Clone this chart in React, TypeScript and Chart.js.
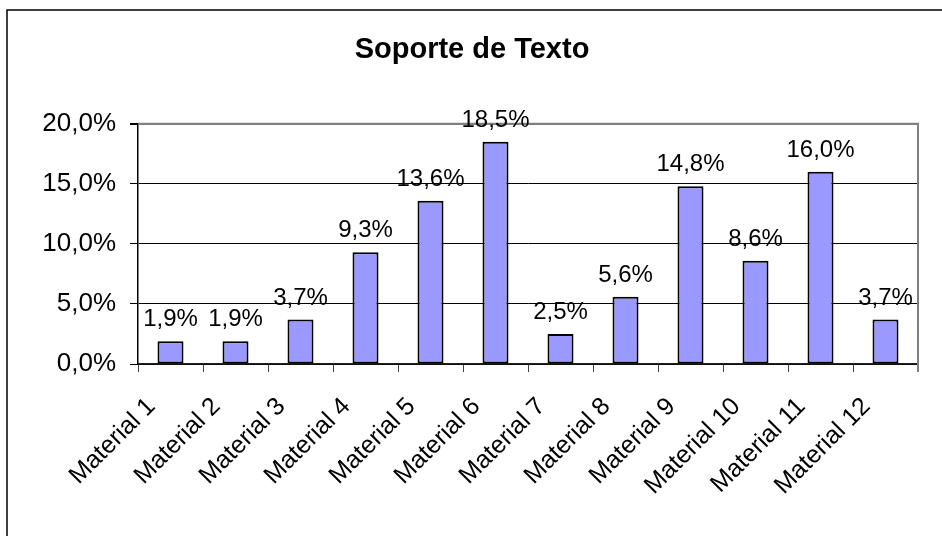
import React, { useEffect, useRef } from "react";
import { Chart, registerables } from "chart.js";

Chart.register(...registerables);

const TITLE = "Soporte de Texto";
const categories = [
  "Material 1", "Material 2", "Material 3", "Material 4", "Material 5", "Material 6",
  "Material 7", "Material 8", "Material 9", "Material 10", "Material 11", "Material 12",
];
const values = [1.9, 1.9, 3.7, 9.3, 13.6, 18.5, 2.5, 5.6, 14.8, 8.6, 16.0, 3.7];
const yTicks = [0, 5, 10, 15, 20];

const FONT = "'Liberation Sans', Arial, Helvetica, sans-serif";
const fmt = (v: number) => v.toFixed(1).replace(".", ",") + "%";

const frameAndLabels = {
  id: "frameAndLabels",
  beforeDraw(chart: any) {
    const ctx = chart.ctx;
    ctx.save();
    ctx.fillStyle = "#ffffff";
    ctx.fillRect(0, 0, chart.width, chart.height);
    ctx.strokeStyle = "#000000";
    ctx.lineWidth = 1.5;
    ctx.strokeRect(7, 10, chart.width + 20, chart.height + 20);
    ctx.restore();
  },
  beforeDatasetsDraw(chart: any) {
    const { ctx, chartArea } = chart;
    ctx.save();
    ctx.strokeStyle = "#808080";
    ctx.lineWidth = 2;
    ctx.beginPath();
    ctx.moveTo(chartArea.left, chartArea.top);
    ctx.lineTo(chartArea.right, chartArea.top);
    ctx.lineTo(chartArea.right, chartArea.bottom + 8);
    ctx.stroke();
    ctx.restore();
  },
  afterDatasetsDraw(chart: any) {
    const { ctx } = chart;
    const meta = chart.getDatasetMeta(0);
    ctx.save();
    ctx.font = `24px ${FONT}`;
    ctx.fillStyle = "#000000";
    ctx.textAlign = "center";
    ctx.textBaseline = "alphabetic";
    meta.data.forEach((bar: any, i: number) => {
      ctx.fillText(fmt(values[i]), bar.x, bar.y - 15);
    });
    ctx.restore();
  },
};

export default function App() {
  const ref = useRef<HTMLCanvasElement | null>(null);
  useEffect(() => {
    if (!ref.current) return;
    const chart = new Chart(ref.current, {
      type: "bar",
      data: {
        labels: categories,
        datasets: [
          {
            data: values,
            backgroundColor: "#9999FF",
            borderColor: "#000000",
            borderWidth: 2,
            borderSkipped: false,
            barPercentage: 0.4,
            categoryPercentage: 1,
          },
        ],
      },
      options: {
        responsive: false,
        animation: false,
        layout: { padding: { left: 26, right: 24, top: 0, bottom: 0 } },
        plugins: {
          legend: { display: false },
          tooltip: { enabled: false },
          title: {
            display: true,
            text: TITLE,
            color: "#000000",
            font: { family: FONT, size: 29, weight: "bold" },
            padding: { top: 33, bottom: 56 },
          },
        },
        scales: {
          x: {
            offset: true,
            grid: {
              offset: true,
              drawOnChartArea: false,
              drawTicks: true,
              tickLength: 8,
              tickColor: "#404040",
            },
            border: { display: true, color: "#202020", width: 1.5 },
            ticks: {
              color: "#000000",
              font: { family: FONT, size: 25 },
              minRotation: 45,
              maxRotation: 45,
              autoSkip: false,
              padding: 20,
              labelOffset: -19,
            },
            afterFit(scale: any) {
              scale.height = 172;
            },
          },
          y: {
            min: 0,
            max: 20,
            afterBuildTicks(scale: any) {
              scale.ticks = yTicks.map((v) => ({ value: v }));
            },
            grid: {
              color: (c: any) => (c.tick && c.tick.value === 20 ? "#808080" : "#000000"),
              lineWidth: (c: any) => (c.tick && c.tick.value === 20 ? 2 : 1),
              tickColor: "#000000",
              tickLength: 8,
            },
            border: { display: true, color: "#000000", width: 1.5 },
            ticks: {
              color: "#000000",
              font: { family: FONT, size: 26 },
              padding: 14,
              callback: (v: any) => fmt(Number(v)),
            },
            afterFit(scale: any) {
              scale.width = 112;
            },
          },
        },
      },
      plugins: [frameAndLabels],
    });
    return () => chart.destroy();
  }, []);
  return (
    <div style={{ position: "absolute", left: 0, top: 0, width: 942, height: 536, overflow: "hidden" }}>
      <canvas ref={ref} width={942} height={536} />
    </div>
  );
}
